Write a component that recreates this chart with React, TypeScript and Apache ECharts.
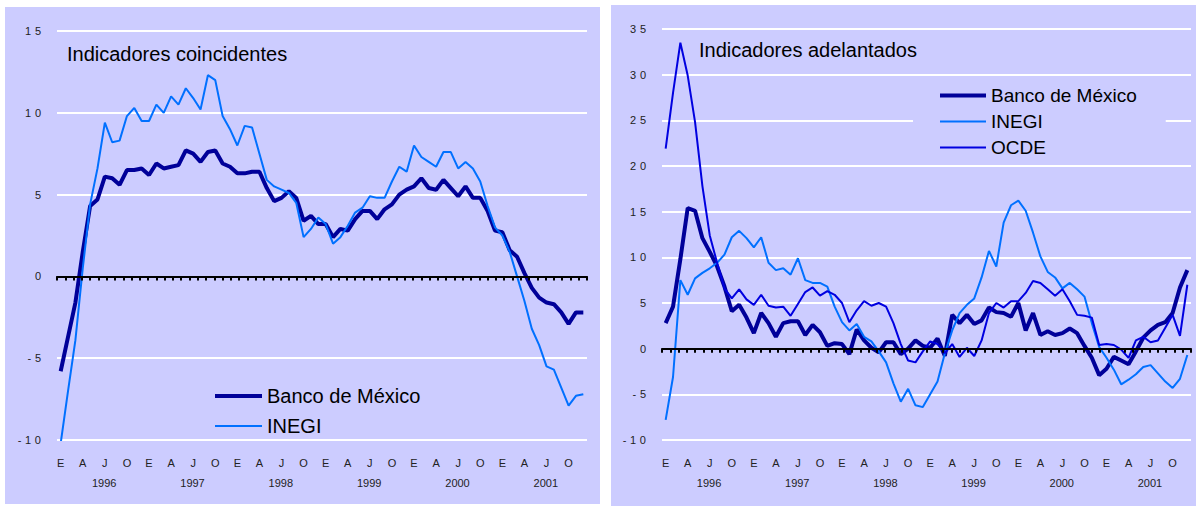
import React, { useEffect, useRef } from 'react';
import * as echarts from 'echarts';

const monthInitials = ['E', 'F', 'M', 'A', 'M', 'J', 'J', 'A', 'S', 'O', 'N', 'D'];
const years = ['1996', '1997', '1998', '1999', '2000', '2001'];
const yTicksLeft = { min: -10, max: 15, step: 5 };
const yTicksRight = { min: -10, max: 35, step: 5 };

const coincBanxico = [
  -5.8, -3.7, -1.6, 1.5, 4.3, 4.7, 6.1, 6.0, 5.6, 6.5,
  6.5, 6.6, 6.2, 6.9, 6.6, 6.7, 6.8, 7.7, 7.5, 7.0,
  7.6, 7.7, 6.9, 6.7, 6.3, 6.3, 6.4, 6.4, 5.4, 4.6,
  4.8, 5.2, 4.8, 3.4, 3.7, 3.2, 3.2, 2.4, 2.9, 2.8,
  3.5, 4.0, 4.0, 3.5, 4.1, 4.4, 5.0, 5.3, 5.5, 6.0,
  5.4, 5.3, 5.9, 5.4, 4.9, 5.5, 4.8, 4.8, 4.0, 2.8,
  2.7, 1.6, 1.2, 0.2, -0.7, -1.3, -1.6, -1.7, -2.2, -2.9,
  -2.2, -2.2,
];
const coincINEGI = [
  -10.2, -7.0, -3.9, 0.5, 4.4, 6.6, 9.4, 8.2, 8.3, 9.8,
  10.3, 9.5, 9.5, 10.5, 10.0, 11.0, 10.5, 11.5, 10.9, 10.2,
  12.3, 12.0, 9.8, 9.0, 8.0, 9.2, 9.1, 7.5, 5.9, 5.5,
  5.3, 5.1, 4.5, 2.4, 2.9, 3.6, 3.2, 2.0, 2.4, 3.1,
  3.9, 4.2, 4.9, 4.8, 4.8, 5.8, 6.7, 6.4, 8.0, 7.3,
  7.0, 6.7, 7.6, 7.6, 6.6, 7.0, 6.6, 5.8, 4.3, 3.0,
  2.5, 1.5, 0.0, -1.5, -3.2, -4.2, -5.5, -5.7, -6.8, -7.9,
  -7.3, -7.2,
];

const adelBanxico = [
  2.8, 4.6, 9.8, 15.4, 15.1, 12.1, 10.6, 9.0, 6.8, 4.1,
  4.8, 3.4, 1.7, 3.9, 2.8, 1.3, 2.8, 3.0, 3.0, 1.5,
  2.6, 1.8, 0.3, 0.6, 0.5, -0.6, 2.1, 0.9, 0.1, -0.4,
  0.7, 0.7, -0.6, 0.0, 0.9, 0.3, 0.1, 1.1, -0.8, 3.7,
  2.8, 3.7, 2.7, 3.1, 4.5, 4.0, 3.9, 3.5, 5.0, 2.0,
  3.9, 1.5, 1.9, 1.5, 1.7, 2.2, 1.7, 0.3, -1.0, -2.9,
  -2.2, -0.9, -1.3, -1.7, -0.3, 1.2, 2.0, 2.6, 2.9, 3.9,
  6.7, 8.6,
];
const adelINEGI = [
  -7.8, -3.1, 7.5, 5.9, 7.7, 8.3, 8.8, 9.4, 10.3, 12.2,
  12.9, 12.1, 11.1, 12.2, 9.4, 8.6, 8.8, 8.1, 9.9, 7.5,
  7.2, 7.2, 6.8, 4.6, 2.9, 2.0, 2.7, 1.3, 0.8, -0.3,
  -1.5, -3.8, -5.8, -4.4, -6.2, -6.4, -5.0, -3.6, -0.5, 2.0,
  3.9, 4.8, 5.5, 7.8, 10.7, 9.0, 13.8, 15.7, 16.2, 15.1,
  12.7, 10.1, 8.4, 7.8, 6.6, 7.2, 6.5, 5.7, 2.8, 0.2,
  -1.0, -2.3, -3.9, -3.4, -2.8, -2.0, -1.8, -2.7, -3.6, -4.3,
  -3.3, -0.7,
];
const adelOCDE = [
  21.9, 28.0, 33.5, 29.9, 24.8, 17.8, 12.4, 9.4, 6.6, 5.5,
  6.5, 5.4, 4.8, 5.9, 4.7, 4.5, 4.6, 3.6, 4.9, 6.2,
  6.7, 5.8, 6.3, 5.9, 5.0, 2.9, 4.2, 5.2, 4.7, 5.0,
  4.6, 2.8, 0.5, -1.3, -1.5, -0.3, 0.8, 0.5, -0.5, 0.5,
  -0.9, 0.1, -0.8, 0.9, 3.9, 5.0, 4.5, 5.2, 5.2, 6.1,
  7.4, 7.2, 6.5, 5.8, 6.5, 5.2, 3.7, 3.6, 3.4, 0.4,
  0.5, 0.4, -0.1, -1.0, 0.9, 1.3, 0.7, 0.9, 2.3, 3.7,
  1.4, 7.0,
];

const NAME_BANXICO = 'Banco de México';
const NAME_INEGI = 'INEGI';
const NAME_OCDE = 'OCDE';

const monthCats = years.flatMap((y) => monthInitials.map((m, k) => `${m}|${k + 1}|${y}`));

const FONT = '"Liberation Sans", Arial, Helvetica, sans-serif';
const C_BG = '#CCCCFF';
const C_BANXICO = '#000099';
const C_INEGI = '#0070FF';
const C_OCDE = '#0000E0';
const C_LABEL = '#222222';
const W_BANXICO = 4;
const W_THIN = 2;

const spaced = (v: number | string) => String(v).split('').join('\u2004');

function monthAxis(gridIndex: number) {
  return {
    type: 'category',
    gridIndex,
    data: monthCats,
    boundaryGap: true,
    position: 'bottom',
    axisLine: { show: false, onZero: false },
    axisTick: { show: false },
    splitLine: { show: false },
    axisLabel: {
      interval: (i: number) => i % 3 === 0,
      formatter: (v: string) => v.charAt(0),
      margin: 17,
      color: C_LABEL,
      fontSize: 11,
      fontFamily: FONT,
    },
  };
}

function yearAxis(gridIndex: number) {
  return {
    type: 'category',
    gridIndex,
    data: years,
    boundaryGap: true,
    position: 'bottom',
    offset: 20,
    axisLine: { show: false, onZero: false },
    axisTick: { show: false },
    splitLine: { show: false },
    axisLabel: {
      interval: 0,
      margin: 17,
      padding: [0, 0, 0, 6],
      color: C_LABEL,
      fontSize: 11,
      fontFamily: FONT,
    },
  };
}

function zeroTickAxis(gridIndex: number) {
  return {
    type: 'value',
    gridIndex,
    min: 0,
    max: 64,
    interval: 1,
    position: 'bottom',
    z: 5,
    axisLine: { show: true, onZero: true, lineStyle: { color: '#000', width: 2 } },
    axisTick: { show: true, inside: false, length: 4, lineStyle: { color: '#000', width: 2 } },
    axisLabel: { show: false },
    splitLine: { show: false },
  };
}

function valueAxis(gridIndex: number, t: { min: number; max: number; step: number }) {
  return {
    type: 'value',
    gridIndex,
    min: t.min,
    max: t.max,
    interval: t.step,
    axisLine: { show: false, onZero: false },
    axisTick: { show: false },
    splitLine: { show: true, lineStyle: { color: '#FFFFFF', width: 2 } },
    axisLabel: { formatter: spaced, color: C_LABEL, fontSize: 11, margin: 16, fontFamily: FONT },
  };
}

function lineSeries(name: string, xAxisIndex: number, yAxisIndex: number, data: number[], color: string, width: number) {
  return {
    type: 'line',
    name,
    xAxisIndex,
    yAxisIndex,
    data,
    symbol: 'none',
    lineStyle: { color, width },
    itemStyle: { color },
  };
}

const legendItem = (name: string, color: string, width: number) => ({
  name,
  lineStyle: { color, width },
  itemStyle: { opacity: 0 },
});

export default function App() {
  const ref = useRef<HTMLDivElement>(null);
  useEffect(() => {
    const chart = echarts.init(ref.current!, null, { renderer: 'svg' });
    const option = {
      animation: false,
      backgroundColor: '#FFFFFF',
      graphic: [
        { type: 'rect', z: -100, shape: { x: 5, y: 7, width: 595, height: 497 }, style: { fill: C_BG } },
        { type: 'rect', z: -100, shape: { x: 611, y: 5, width: 585, height: 501 }, style: { fill: C_BG } },
      ],
      title: [
        {
          text: 'Indicadores coincidentes',
          left: 67,
          top: 44,
          padding: 0,
          textStyle: { fontSize: 20, fontWeight: 'normal', color: '#000', fontFamily: FONT },
        },
        {
          text: 'Indicadores adelantados',
          left: 699,
          top: 40,
          padding: 0,
          textStyle: { fontSize: 20, fontWeight: 'normal', color: '#000', fontFamily: FONT },
        },
      ],
      legend: [
        {
          data: [legendItem(NAME_BANXICO, C_BANXICO, W_BANXICO), legendItem(NAME_INEGI, C_INEGI, W_THIN)],
          orient: 'vertical',
          left: 213,
          top: 386,
          padding: 0,
          itemGap: 10,
          itemWidth: 47,
          itemHeight: 14,
          itemStyle: { opacity: 0 },
          selectedMode: false,
          textStyle: { fontSize: 20, color: '#000', fontFamily: FONT },
        },
        {
          data: [
            legendItem(NAME_BANXICO, C_BANXICO, W_BANXICO),
            legendItem(NAME_INEGI, C_INEGI, W_THIN),
            legendItem(NAME_OCDE, C_OCDE, W_THIN),
          ],
          orient: 'vertical',
          left: 913,
          top: 80,
          padding: [6, 29, 6, 25],
          backgroundColor: C_BG,
          itemGap: 7,
          itemWidth: 46,
          itemHeight: 14,
          itemStyle: { opacity: 0 },
          selectedMode: false,
          textStyle: { fontSize: 19, color: '#000', fontFamily: FONT },
        },
      ],
      grid: [
        { left: 57, top: 31, width: 530, height: 409, containLabel: false },
        { left: 662, top: 29, width: 529, height: 411, containLabel: false },
      ],
      xAxis: [monthAxis(0), yearAxis(0), zeroTickAxis(0), monthAxis(1), yearAxis(1), zeroTickAxis(1)],
      yAxis: [valueAxis(0, yTicksLeft), valueAxis(1, yTicksRight)],
      series: [
        lineSeries(NAME_BANXICO, 0, 0, coincBanxico, C_BANXICO, W_BANXICO),
        lineSeries(NAME_INEGI, 0, 0, coincINEGI, C_INEGI, W_THIN),
        lineSeries(NAME_BANXICO, 3, 1, adelBanxico, C_BANXICO, W_BANXICO),
        lineSeries(NAME_INEGI, 3, 1, adelINEGI, C_INEGI, W_THIN),
        lineSeries(NAME_OCDE, 3, 1, adelOCDE, C_OCDE, W_THIN),
      ],
    };
    chart.setOption(option as any);
    return () => chart.dispose();
  }, []);
  return <div ref={ref} style={{ position: 'absolute', left: 0, top: 0, width: 1196, height: 506 }} />;
}
